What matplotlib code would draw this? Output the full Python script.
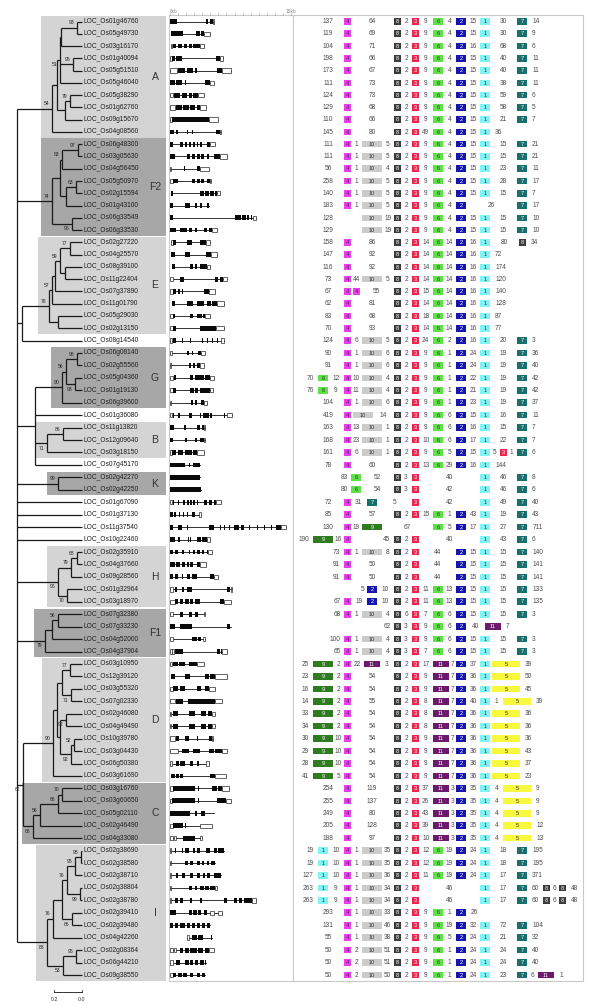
import matplotlib
matplotlib.use('Agg')
import matplotlib.pyplot as plt
from matplotlib.patches import Rectangle
import numpy as np

plt.rcParams['font.family'] = ['Liberation Sans', 'DejaVu Sans']

# ---------------------------------------------------------------- data
genes = ['LOC_Os01g46760', 'LOC_Os05g49730', 'LOC_Os03g16170', 'LOC_Os01g40094', 'LOC_Os05g51510',
         'LOC_Os05g46040', 'LOC_Os05g38290', 'LOC_Os01g62760', 'LOC_Os09g15670', 'LOC_Os04g08560',
         'LOC_Os06g48300', 'LOC_Os03g05630', 'LOC_Os04g56450', 'LOC_Os05g50970', 'LOC_Os02g15594',
         'LOC_Os01g43100', 'LOC_Os06g33549', 'LOC_Os06g33530', 'LOC_Os02g27220', 'LOC_Os04g25570',
         'LOC_Os08g39100', 'LOC_Os11g22404', 'LOC_Os07g37890', 'LOC_Os11g01790', 'LOC_Os05g29030',
         'LOC_Os02g13150', 'LOC_Os08g14540', 'LOC_Os06g08140', 'LOC_Os02g55560', 'LOC_Os05g04360',
         'LOC_Os01g19130', 'LOC_Os06g39600', 'LOC_Os01g36080', 'LOC_Os11g13820', 'LOC_Os12g09640',
         'LOC_Os03g18150', 'LOC_Os07g45170', 'LOC_Os02g42270', 'LOC_Os02g42250', 'LOC_Os01g67090',
         'LOC_Os01g37130', 'LOC_Os11g37540', 'LOC_Os10g22460', 'LOC_Os02g35910', 'LOC_Os04g37660',
         'LOC_Os09g28560', 'LOC_Os01g32964', 'LOC_Os03g18970', 'LOC_Os07g32380', 'LOC_Os07g33230',
         'LOC_Os04g52000', 'LOC_Os04g37904', 'LOC_Os03g10950', 'LOC_Os12g39120', 'LOC_Os03g55320',
         'LOC_Os07g02330', 'LOC_Os02g46080', 'LOC_Os04g49490', 'LOC_Os10g39780', 'LOC_Os03g04430',
         'LOC_Os06g50380', 'LOC_Os03g61690', 'LOC_Os03g16760', 'LOC_Os03g60650', 'LOC_Os05g02110',
         'LOC_Os02g46490', 'LOC_Os04g33080', 'LOC_Os02g38690', 'LOC_Os02g38580', 'LOC_Os02g38710',
         'LOC_Os02g38804', 'LOC_Os02g38780', 'LOC_Os02g39410', 'LOC_Os02g39480', 'LOC_Os04g42260',
         'LOC_Os02g08364', 'LOC_Os06g44210', 'LOC_Os09g38550']

# exons (kb)
exons = [
    [(0, 0.9), (4.5, 4.7), (4.95, 5.3)],
    [(0.1, 1.6), (3.25, 3.67), (3.9, 4.25)],
    [(0.4, 0.8), (1.0, 1.5), (1.7, 2.1), (2.3, 2.7), (2.9, 3.7)],
    [(0.3, 0.6), (0.8, 1.5), (5.75, 6.2)],
    [(0.95, 1.9), (2.1, 2.9), (3.1, 3.3), (5.8, 6.45)],
    [(0, 0.6), (0.8, 1.5), (1.8, 1.95), (4.4, 5.0)],
    [(0.5, 1.25), (1.5, 2.1), (2.3, 2.7), (2.9, 3.5)],
    [(0.75, 1.45), (1.67, 2.3), (2.5, 3.1), (3.3, 3.75)],
    [(0.2, 4.8)],
    [(0, 0.5), (0.7, 1.0), (2.1, 2.2), (2.7, 2.8), (3.3, 3.4), (5.75, 6.15)],
    [(0, 0.4), (1.25, 1.67), (1.9, 2.1), (2.3, 2.6), (2.9, 3.1), (3.3, 3.5), (3.75, 3.95), (4.6, 5.0)],
    [(0, 0.6), (2.1, 2.5), (2.7, 3.1), (3.3, 3.67), (3.9, 4.25), (4.6, 4.8), (5.4, 6.25)],
    [(0.7, 0.8), (1.2, 1.3), (1.7, 1.8), (2.3, 2.4), (3.3, 3.75)],
    [(0.35, 1.05), (2.7, 3.1), (3.3, 3.67), (3.9, 4.25), (4.6, 5.0)],
    [(0.1, 0.4), (3.75, 4.2), (4.4, 4.8), (5.0, 5.4), (5.6, 5.8)],
    [(0, 0.4), (1.9, 2.5), (3.1, 3.3), (3.75, 3.95), (4.6, 4.8)],
    [(0, 0.4), (8.1, 8.75), (8.96, 9.4), (9.6, 9.8), (10.0, 10.2)],
    [(0, 0.8), (1.25, 2.1), (2.4, 2.7), (3.1, 3.3), (4.2, 4.6), (4.8, 5.2)],
    [(0.33, 0.75), (2.1, 2.7), (3.75, 4.5)],
    [(0.1, 0.6), (1.9, 2.5), (4.5, 5.1)],
    [(0.2, 0.6), (2.5, 2.9), (3.1, 3.4), (3.67, 4.6)],
    [(1.2, 1.7), (5.6, 6.0), (6.2, 6.6)],
    [(0.4, 0.8), (0.95, 1.25), (1.45, 1.67), (4.25, 4.8)],
    [(0.2, 0.6), (2.1, 2.9), (3.3, 3.67), (3.75, 4.25), (4.6, 5.1), (5.2, 5.8)],
    [(0.33, 0.6), (2.5, 2.9), (3.3, 3.67), (3.75, 4.0), (4.1, 4.4)],
    [(0.4, 0.8), (3.67, 5.75)],
    [(0.4, 0.8), (1.5, 1.6), (2.5, 2.6), (3.3, 3.4), (4.0, 4.1), (4.6, 4.7), (5.2, 5.3), (5.8, 5.9)],
    [(2.1, 2.3), (2.7, 2.9), (3.5, 3.9)],
    [(2.3, 2.6), (2.8, 3.1), (3.3, 3.75)],
    [(0.5, 0.75), (2.5, 2.9), (3.1, 3.67), (3.75, 4.25), (4.4, 5.0)],
    [(0.4, 0.75), (2.5, 3.0), (3.1, 3.5), (3.67, 4.25), (4.25, 4.9)],
    [(2.6, 2.9), (3.1, 3.3), (3.8, 4.25)],
    [(0.33, 0.5), (1.0, 1.2), (2.3, 2.7), (3.67, 3.8), (4.1, 4.8), (5.0, 5.2), (6.7, 6.8)],
    [(0, 0.5), (1.75, 2.0), (3.3, 3.75), (3.95, 4.25)],
    [(0, 0.4), (1.9, 2.1), (3.1, 3.3), (3.75, 4.2)],
    [(0.2, 0.8), (1.0, 1.67), (1.9, 2.7), (2.9, 3.3)],
    [(0, 1.9), (2.3, 2.5), (2.9, 3.75)],
    [(0, 3.75)],
    [(0, 3.8)],
    [(0.4, 0.5), (1.0, 1.1), (1.67, 1.8), (2.1, 2.3), (2.5, 2.7), (2.9, 3.1), (3.3, 3.5), (4.2, 4.6), (4.8, 5.2), (5.4, 5.75)],
    [(0, 0.35), (0.5, 0.7), (1.1, 1.2), (1.6, 1.7), (2.1, 2.2), (2.7, 3.1)],
    [(0, 0.4), (1.0, 1.45), (2.1, 2.2), (3.3, 3.4), (4.8, 5.4), (6.25, 6.35), (6.7, 6.8), (7.3, 7.4),
     (7.9, 8.5), (8.75, 9.2), (9.8, 9.9), (10.8, 10.9), (11.7, 11.8), (12.5, 12.6), (13.1, 13.75)],
    [(0, 0.6), (1.0, 1.3), (1.8, 1.9), (2.2, 2.3), (2.5, 2.6), (3.4, 3.9), (4.0, 4.6)],
    [(0, 0.33), (0.6, 1.0), (1.45, 1.75), (2.3, 2.5), (2.9, 3.1), (3.3, 3.75), (4.0, 4.25), (4.6, 4.7)],
    [(0, 0.6), (0.8, 1.25), (1.45, 1.9), (2.1, 2.3), (2.5, 2.9), (3.3, 3.75)],
    [(0, 0.33), (0.6, 1.0), (1.45, 1.67), (2.1, 2.5), (2.7, 3.3), (5.0, 5.4)],
    [(0.6, 0.9), (1.45, 1.75), (2.1, 2.7), (7.1, 7.5)],
    [(0.6, 1.0), (1.25, 1.67), (1.9, 2.3), (2.5, 2.9), (3.1, 3.75), (6.25, 6.7)],
    [(1.25, 1.6), (2.3, 2.7), (3.1, 3.5)],
    [(0, 0.6), (1.25, 2.7), (7.1, 7.5)],
    [(2.7, 3.3), (3.5, 3.9)],
    [(0.6, 1.67), (5.8, 6.25), (6.3, 6.45)],
    [(0.33, 1.0), (1.1, 1.9), (2.3, 3.3)],
    [(0.1, 0.6), (1.9, 2.5), (4.4, 4.8), (5.0, 5.6)],
    [(0.4, 1.0), (1.25, 1.9), (3.3, 3.9), (4.4, 4.8)],
    [(0.8, 1.67), (2.2, 5.6)],
    [(0.33, 1.0), (2.3, 3.1), (3.9, 4.5), (4.7, 5.2)],
    [(0.33, 1.0), (2.3, 3.1), (3.9, 4.5), (4.7, 5.2)],
    [(0.8, 1.1), (1.9, 2.3), (3.3, 3.5), (4.8, 5.2)],
    [(1.45, 2.3), (2.9, 3.75), (4.8, 5.4), (5.6, 6.45)],
    [(0.8, 1.1), (1.25, 1.9), (2.5, 2.9), (3.3, 3.6)],
    [(0.1, 0.6), (0.7, 1.1), (1.25, 1.6), (5.0, 5.6)],
    [(0.33, 3.1), (3.5, 3.6), (5.2, 5.8), (6.0, 6.45)],
    [(0.2, 3.1), (3.5, 3.6), (5.8, 6.45), (6.45, 6.9)],
    [(0, 2.5), (3.1, 3.3), (3.9, 4.4), (5.4, 5.5)],
    [(0.33, 1.6), (1.9, 2.0), (2.3, 2.4)],
    [(1.67, 3.1)],
    [(0.6, 0.7), (1.45, 1.55), (1.9, 2.3), (2.9, 3.1), (3.3, 3.75), (4.5, 5.0), (5.4, 5.8), (6.0, 6.7)],
    [(1.9, 2.2), (2.5, 2.8), (3.3, 3.75), (4.0, 4.2), (4.6, 4.8), (5.1, 5.6)],
    [(0.8, 1.0), (1.45, 1.9), (2.5, 2.9), (3.3, 3.75), (4.1, 4.4), (4.6, 5.0), (5.4, 6.3)],
    [(2.3, 2.7), (3.1, 3.3), (3.75, 4.2), (4.4, 4.8), (5.0, 5.6)],
    [(0.6, 1.0), (1.25, 1.67), (2.5, 2.7), (3.75, 4.0), (6.75, 7.1), (7.5, 7.6), (7.9, 8.3), (8.5, 8.96), (9.2, 9.6), (9.6, 10.2)],
    [(0, 0.8), (2.3, 2.7), (2.9, 3.3), (3.5, 3.9), (4.2, 4.6)],
    [(0, 0.4), (0.6, 1.0), (1.25, 1.9), (2.1, 2.5), (2.7, 3.1), (3.3, 3.75), (4.0, 4.4), (4.6, 5.0)],
    [(2.7, 3.3), (3.5, 4.1), (4.3, 4.4), (4.9, 5.0), (5.1, 5.2)],
    [(1.25, 1.6), (1.9, 2.3), (2.5, 3.3), (3.5, 4.1), (4.4, 4.8)],
    [(0.8, 1.25), (1.9, 2.3), (2.5, 2.9), (3.1, 3.5), (3.75, 4.25), (4.3, 4.5)],
    [(0.4, 0.75), (1.0, 1.45), (1.67, 2.1), (2.5, 2.9), (3.3, 3.75), (3.95, 4.4)],
]

# UTRs (kb)
utrs = [
    [(5.3, 5.45)], [(4.25, 4.9)], [(0.1, 0.3), (3.7, 4.25)], [(0, 0.3), (6.2, 6.6)], [(0, 0.9), (6.45, 7.5)],
    [(5.0, 5.4)], [(0, 0.4), (3.5, 4.2)], [(0, 0.6), (3.75, 4.45)], [(0, 0.2), (4.8, 5.9)], [(6.15, 6.3)],
    [(5.0, 5.6)], [(6.25, 7.1)], [(0, 0.15), (3.75, 4.8)], [(0, 0.35), (5.0, 5.1)], [(5.8, 6.25)],
    [], [(10.3, 10.6)], [(5.2, 5.8)], [(0.1, 0.33), (4.5, 5.0)], [(5.1, 5.8)],
    [(4.6, 4.9)], [(0, 0.4), (6.6, 7.1)], [(0, 0.4), (4.8, 5.6)], [(5.8, 6.7)], [(0, 0.33), (4.4, 4.9)],
    [(0, 0.4), (5.75, 6.75)], [(0, 0.2), (6.3, 6.7)], [(0, 0.2), (3.9, 4.4)], [(0, 0.15), (3.75, 4.25)], [(0, 0.33), (5.0, 5.5)],
    [(0, 0.4), (4.9, 5.3)], [(0, 0.1), (4.25, 4.6)], [(0, 0.2), (7.1, 7.7)], [(4.25, 4.4)], [(4.2, 4.3)],
    [(0, 0.2), (3.3, 4.2)], [], [], [], [(0, 0.3), (5.75, 6.3)],
    [(3.6, 3.9)], [(13.75, 14.4)], [(4.6, 5.0)], [(4.7, 5.2)], [(3.75, 4.5)],
    [(5.4, 6.0)], [(0, 0.33), (7.5, 7.7)], [(0, 0.6), (6.7, 7.5)], [(0, 0.4), (4.2, 4.3)], [],
    [(0, 0.4), (4.1, 4.3)], [(0, 0.2), (0.25, 0.45), (6.45, 7.1)], [(0, 0.2), (3.3, 4.25)], [(5.6, 7.1)], [(0, 0.33), (4.8, 5.6)],
    [(0, 0.6), (5.6, 6.45)], [(0, 0.15), (5.2, 5.6)], [(0, 0.15), (5.2, 5.6)], [(0, 0.6), (5.2, 5.3)], [(0, 1.0), (6.45, 7.1)],
    [(0, 0.3), (4.5, 4.8)], [(5.6, 6.9)], [(0, 0.33), (6.45, 7.3)], [(0, 0.2), (6.9, 7.5)], [],
    [(0, 0.33), (3.75, 5.2)], [(0, 0.4), (0.45, 0.8), (3.75, 3.95)], [(0, 0.1)], [(0, 0.1)], [(0, 0.1)],
    [(0, 0.1), (5.6, 5.8)], [(0, 0.1), (10.2, 10.6)], [(5.0, 5.4), (6.0, 6.45)], [], [(2.1, 2.4)],
    [(0, 0.4), (0.45, 0.8), (4.8, 5.4)], [(0, 0.33)], [(0, 0.33)],
]

# motif composition, gap lengths between motifs ("m4" = motif 4, "@col" = alignment column)
motif_rows = [
    "137 m4 64 m8 2 m3 9 m6 4 m2 15 m1 30 m7 14",
    "119 m4 69 m8 2 m3 9 m6 4 m2 15 m1 30 m7 9",
    "104 m4 71 m8 2 m3 9 m6 4 m2 16 m1 68 m7 6",
    "198 m4 66 m8 2 m3 9 m6 4 m2 15 m1 40 m7 11",
    "173 m4 67 m8 2 m3 9 m6 4 m2 15 m1 40 m7 11",
    "111 m4 73 m8 2 m3 9 m6 4 m2 15 m1 38 m7 11",
    "124 m4 73 m8 2 m3 9 m6 4 m2 15 m1 59 m7 6",
    "129 m4 68 m8 2 m3 9 m6 4 m2 15 m1 58 m7 5",
    "110 m4 66 m8 2 m3 9 m6 4 m2 15 m1 21 m7 7",
    "145 m4 80 m8 2 m3 49 m6 4 m2 15 m1 36",
    "111 m4 1 m10 5 m8 2 m3 9 m6 4 m2 15 m1 15 m7 21",
    "111 m4 1 m10 5 m8 2 m3 9 m6 4 m2 15 m1 15 m7 21",
    "56 m4 1 m10 4 m8 2 m3 9 m6 4 m2 15 m1 23 m7 11",
    "258 m4 1 m10 5 m8 2 m3 9 m6 4 m2 15 m1 28 m7 17",
    "140 m4 1 m10 5 m8 2 m3 9 m6 4 m2 15 m1 15 m7 7",
    "183 m4 1 m10 5 m8 2 m3 9 m6 4 m2 26 m7 17",
    "128 m10 19 m8 2 m3 9 m6 4 m2 15 m1 15 m7 10",
    "129 m10 19 m8 2 m3 9 m6 4 m2 15 m1 15 m7 10",
    "158 m4 86 m8 2 m3 14 m6 14 m2 16 m1 80 m8@c7 34",
    "147 m4 92 m8 2 m3 14 m6 14 m2 16 m1 72",
    "116 m4 92 m8 2 m3 14 m6 14 m2 16 m1 174",
    "73 m4 44 m10 5 m8 2 m3 14 m6 14 m2 16 m1 120",
    "67 m4 m4@c4b 55 m8 2 m3 15 m6 14 m2 16 m1 140",
    "62 m4 81 m8 2 m3 14 m6 14 m2 16 m1 128",
    "83 m4 68 m8 2 m3 18 m6 14 m2 16 m1 87",
    "70 m4 93 m8 2 m3 14 m6 14 m2 16 m1 77",
    "124 m4 6 m10 5 m8 2 m3 24 m6 2 m2 16 m1 20 m7 3",
    "90 m4 1 m10 6 m8 2 m3 9 m6 1 m2 24 m1 19 m7 36",
    "91 m4 1 m10 6 m8 2 m3 9 m6 1 m2 24 m1 19 m7 40",
    "70 m6@c9 12 m4 10 m10 4 m8 2 m3 9 m6 1 m2 22 m1 19 m7 42",
    "76 m6@c9 9 m4 11 m10 4 m8 2 m3 9 m6 1 m2 21 m1 19 m7 42",
    "104 m4 1 m10 6 m8 2 m3 9 m6 1 m2 23 m1 19 m7 37",
    "419 m4 m10@c10a 14 m8 2 m3 9 m6 6 m2 15 m1 16 m7 11",
    "163 m4 13 m10 1 m8 2 m3 9 m6 6 m2 16 m1 15 m7 7",
    "168 m4 23 m10 1 m8 2 m3 10 m6 6 m2 17 m1 22 m7 7",
    "161 m4 6 m10 1 m8 2 m3 9 m6 5 m2 15 m1 5 m3@cm 1 m7 6",
    "78 m4 60 m8 2 m3 13 m6 29 m2 16 m1 144",
    "83@r m6@c4b 52 m8 3 m3 40 m1 46 m7 8",
    "80@r m6@c4b 54 m8 3 m3 42 m1 46 m7 6",
    "72 m4 31 m7@c10 5 m3 42 m1 49 m7 40",
    "85 m4 57 m8 2 m3 15 m6 1 m2 43 m1 19 m7 43",
    "130 m4 19 m9@c10 67 m6 5 m2 17 m1 27 m7 711",
    "190 m9 16 m4 45@r m8 2 m3 40 m1 43 m7 6",
    "73@r m4 1 m10 8 m8 2 m3 44 m2 15 m1 15 m7 140",
    "91@r m4 50 m8 2 m3 44 m2 15 m1 15 m7 141",
    "91@r m4 50 m8 2 m3 44 m2 15 m1 15 m7 141",
    "5@r m2@c10 10 m8 2 m3 11 m6 13 m2 15 m1 15 m7 133",
    "67@r m4 19 m2@c10 10 m8 2 m3 11 m6 13 m2 15 m1 15 m7 135",
    "68@r m4 1 m10 4 m8 6 m3 7 m6 6 m2 15 m1 15 m7 3",
    "62@r m8 3 m3 9 m6 6 m2 40 m11@c11b 7",
    "100@r m4 1 m10 4 m8 3 m3 9 m6 6 m2 15 m1 15 m7 3",
    "65@r m4 1 m10 4 m8 3 m3 7 m6 6 m2 15 m1 15 m7 3",
    "25 m9 2 m4 22 m11@c10 3 m8 2 m3 17 m11 7 m2 37 m1 m5 39",
    "23 m9 2 m4 54 m8 2 m3 9 m11 7 m2 36 m1 m5 50",
    "16 m9 2 m4 54 m8 2 m3 9 m11 7 m2 36 m1 m5 45",
    "14 m9 2 m4 55 m8 2 m3 8 m11 7 m2 40 m1 1 m5@c5b 39",
    "33 m9 2 m4 54 m8 2 m3 8 m11 7 m2 36 m1 m5 36",
    "34 m9 2 m4 54 m8 2 m3 8 m11 7 m2 36 m1 m5 36",
    "30 m9 10 m4 54 m8 2 m3 9 m11 7 m2 36 m1 m5 36",
    "29 m9 10 m4 54 m8 2 m3 9 m11 7 m2 36 m1 m5 43",
    "28 m9 10 m4 54 m8 2 m3 9 m11 7 m2 36 m1 m5 37",
    "41 m9 5 m4 54 m8 2 m3 9 m11 7 m2 36 m1 m5 23",
    "254 m4 119 m8 2 m3 37 m11 3 m2 35 m1 4 m5@c5b 9",
    "255 m4 137 m8 2 m3 26 m11 3 m2 35 m1 4 m5@c5b 9",
    "249 m4 80 m8 2 m3 43 m11 3 m2 35 m1 4 m5@c5b 9",
    "205 m4 128 m8 2 m3 39 m11 3 m2 35 m1 4 m5@c5b 12",
    "188 m4 97 m8 2 m3 10 m11 3 m2 35 m1 4 m5@c5b 13",
    "19 m1@c9 10 m4 1 m10 35 m8 2 m3 12 m6 19 m2 24 m1 18 m7 195",
    "19 m1@c9 10 m4 1 m10 35 m8 2 m3 12 m6 19 m2 24 m1 18 m7 195",
    "127 m1@c9 10 m4 1 m10 36 m8 2 m3 11 m6 19 m2 24 m1 17 m7 371",
    "263 m1@c9 9 m4 1 m10 34 m8 2 m3 46 m1 17 m7 60 m8@e1 6 m8@e2 48",
    "263 m1@c9 9 m4 1 m10 34 m8 2 m3 46 m1 17 m7 60 m8@e1 6 m8@e2 48",
    "293 m4 1 m10 33 m8 2 m3 9 m6 1 m2 26",
    "131 m4 1 m10 46 m8 2 m3 9 m6 19 m2 32 m1 72 m7 104",
    "55 m4 1 m10 38 m8 2 m3 9 m6 5 m2 24 m1 21 m7 32",
    "50 m4 2 m10 51 m8 2 m3 9 m6 1 m2 24 m1 24 m7 40",
    "50 m4 2 m10 51 m8 2 m3 9 m6 1 m2 24 m1 24 m7 40",
    "50 m4 2 m10 50 m8 2 m3 9 m6 1 m2 24 m1 23 m7 6 m11@e1 1",
]


# tree: node depth (branch length units from tips), bootstrap, children (leaf = row index)
def N(depth, boot, *kids, group=None, below=False):
    return {'d': depth, 'b': boot, 'kids': kids, 'g': group, 'below': below}


clade_A = N(0.214, '54', N(0.179, '', N(0.157, '51', N(0.150, '', N(0.036, '93', 0, 1), 2), N(0.064, '95', 3, 4), 5, below=True),
                           N(0.121, '', N(0.086, '79', 6, 7), 8)), 9, group='A')
clade_F2 = N(0.214, '74', N(0.157, '', N(0.143, '83', N(0.029, '97', 10, 11), 12), N(0.114, '', N(0.043, '63', 13, 14), 15)),
             N(0.071, '96', 16, 17, below=True), group='F2')
clade_E = N(0.236, '78', N(0.214, '57', N(0.193, '', N(0.157, '59', N(0.086, '77', 18, 19), N(0.121, '', 20, 21)), 22), 23),
            N(0.171, '', 24, 25), group='E')
clade_G = N(0.143, '90', N(0.114, '56', N(0.036, '98', 27, 28), N(0.050, '93', 29, 30, below=True)), 31, group='G')
clade_B = N(0.250, '71', N(0.136, '86', 33, 34), 35, group='B', below=True)
clade_K = N(0.171, '99', 37, 38, group='K')
clade_H = N(0.171, '96', N(0.079, '79', N(0.036, '68', 43, 44), 45), N(0.107, '70', 46, 47, below=True), group='H', below=True)
clade_F1 = N(0.264, '79', N(0.214, '', N(0.171, '56', 48, 49), 50), 51, group='F1', below=True)
clade_D = N(0.207, '90', N(0.179, '', N(0.143, '', N(0.086, '77', 52, 53), N(0.079, '71', 54, 55, below=True)),
                           N(0.157, '', N(0.114, '92', 56, 57, below=True), N(0.079, '92', N(0.057, '52', 58, 59), 60, below=True))),
            61, group='D')
clade_C = N(0.350, '68', N(0.300, '56', N(0.171, '86', N(0.143, '70', 62, 63), 64), 65), 66, group='C', below=True)
clade_I = N(0.250, '88', N(0.207, '76', N(0.143, '', N(0.107, '76', N(0.050, '95', N(0.007, '98', 67, 68), 69),
                                                       N(0.011, '99', 70, 71, below=True)),
                                         N(0.071, '86', 72, 73, below=True)), 74),
            N(0.136, '53', N(0.043, '95', 75, 76), 77, below=True), group='I', below=True)
tree = N(0.464, '', clade_A, clade_F2, N(0.429, '', clade_E, 26), N(0.336, '', clade_G, 32, clade_B, 36), clade_K,
         39, 40, 41, 42, clade_H, clade_F1, N(0.421, '62', clade_D, clade_C, below=True), clade_I)

dark_groups = ['F2', 'G', 'K', 'F1', 'C']

motif_colors = {1: '#80f4f4', 2: '#1616ae', 3: '#ee2550', 4: '#f03cf0', 5: '#f8f83e', 6: '#5fdf48',
                7: '#186f6d', 8: '#3c3c3c', 9: '#2e7b20', 10: '#cbcbcb', 11: '#6c1b6c'}
light_motifs = [1, 4, 5, 6, 10]

# ---------------------------------------------------------------- layout
W, H = 600, 1005
TIP = 82                    # tree tips (px)
UNIT = 140                  # px per branch length unit
# row centres (px), slightly tighter at the top as in the original
row_y = list(np.interp(np.arange(len(genes)), [0, 26, 77], [21.5, 340.5, 975]))

fig = plt.figure(figsize=(W / 100, H / 100), dpi=100)
ax = fig.add_axes([0, 0, 1, 1])
ax.set_xlim(0, W)
ax.set_ylim(H, 0)
ax.axis('off')

ax_t = fig.add_axes([0, 0, TIP / W, 1])
ax_t.set_xlim(TIP / UNIT, 0)
ax_t.set_ylim(H, 0)
ax_t.axis('off')

ax_g = fig.add_axes([170 / W, 0, 121 / W, 1])
ax_g.set_xlim(0, 15)
ax_g.set_ylim(H, 0)
ax_g.axis('off')

line_kw = dict(color='#1a1a1a', lw=0.9, solid_capstyle='butt', zorder=3, clip_on=False)
groups = []


def leaves(node):
    if isinstance(node, int):
        return [node]
    out = []
    for k in node['kids']:
        out += leaves(k)
    return out


def draw(node, parent_d):
    if isinstance(node, int):
        y = row_y[node]
        ax_t.plot([parent_d, 0], [y, y], **line_kw)
        ax_t.annotate(genes[node], (0, y), xytext=(1.3, 0), textcoords='offset points',
                      ha='left', va='center', fontsize=4.8, color='#1e1e1e', annotation_clip=False)
        return y
    ys = [draw(k, node['d']) for k in node['kids']]
    y = (ys[0] + ys[-1]) / 2
    ax_t.plot([node['d']] * 2, [ys[0], ys[-1]], **line_kw)
    if parent_d is not None:
        ax_t.plot([parent_d, node['d']], [y, y], **line_kw)
    if node['b']:
        ax_t.annotate(node['b'], (node['d'], y), xytext=(-1.8, -3.6 if node['below'] else 3.4),
                      textcoords='offset points', ha='right', va='center', fontsize=3.6,
                      color='#222222', annotation_clip=False, zorder=4)
    if node['g']:
        lv = leaves(node)
        groups.append((node['g'], node['d'], min(lv), max(lv)))
    return y


draw(tree, None)

# group shading
for name, d, first, last in groups:
    y0, y1 = row_y[first] - 5.7, row_y[last] + 5.7
    left = d + 11 / UNIT
    right = -84 / UNIT
    shade = '#a7a7a7' if name in dark_groups else '#d4d4d4'
    ax_t.add_patch(Rectangle((right, y0), left - right, y1 - y0, facecolor=shade,
                             edgecolor='none', zorder=0, clip_on=False))
    ax_t.text(-73 / UNIT, (y0 + y1) / 2, name, ha='center', va='center', fontsize=7.5,
              color='#333333', clip_on=False, zorder=4)

# tree scale bar
ax_t.plot([0.2, 0], [992, 992], color='#333333', lw=0.7, clip_on=False)
for v in (0.2, 0):
    ax_t.plot([v, v], [989.5, 992], color='#333333', lw=0.6, clip_on=False)
    ax_t.text(v, 999, '%.1f' % v, ha='center', va='center', fontsize=3.8, color='#333333', clip_on=False)

# panel frame
ax.add_patch(Rectangle((169, 15), 414, 966, fill=False, edgecolor='#c9c9c9', lw=0.8))
ax.plot([293, 293], [15, 981], color='#c9c9c9', lw=0.8)

# kb ruler
for k in range(16):
    ax_g.plot([k, k], [13.2, 15], color='#999999', lw=0.4, clip_on=False)
ax_g.text(0, 11, '0kb', ha='left', va='center', fontsize=3.4, color='#888888', clip_on=False)
ax_g.text(15, 11, '15kb', ha='center', va='center', fontsize=3.4, color='#888888', clip_on=False)

# gene structures
for i, (ex, ut) in enumerate(zip(exons, utrs)):
    y = row_y[i]
    feats = ex + ut
    lo = min(s for s, e in feats)
    hi = max(e for s, e in feats)
    ax_g.plot([lo, hi], [y, y], color='#111111', lw=0.6, clip_on=False, zorder=1)
    for s, e in ut:
        ax_g.add_patch(Rectangle((s, y - 2.2), e - s, 4.4, facecolor='white', edgecolor='#111111',
                                 lw=0.45, zorder=2, clip_on=False))
    for s, e in ex:
        ax_g.add_patch(Rectangle((s, y - 2.4), e - s, 4.8, facecolor='#0a0a0a', edgecolor='none',
                                 zorder=3, clip_on=False))

# motif panel
cols = {'c9': 323, 'c4': 347, 'c4b': 356, 'c10a': 363, 'c10': 372, 'c8': 397, 'c3': 415, 'c6': 438,
        'c11': 441, 'c2': 461, 'c1': 485, 'c11b': 493, 'cm': 503, 'c5': 506, 'c5b': 517, 'c7': 522,
        'e1': 546, 'e2': 562}
home = {9: 'c9', 4: 'c4', 10: 'c10', 8: 'c8', 3: 'c3', 6: 'c6', 11: 'c11', 2: 'c2', 1: 'c1', 5: 'c5', 7: 'c7'}
box_w = {1: 10, 2: 10, 3: 7, 4: 7, 6: 10, 7: 10, 8: 7, 5: 28, 9: 20, 10: 20, 11: 16}
DIGIT = 3.7

for i, row in enumerate(motif_rows):
    y = row_y[i]
    items = []
    for tok in row.split():
        if tok[0] == 'm':
            num, _, col = tok[1:].partition('@')
            num = int(num)
            cx = cols[col or home[num]]
            items.append(('box', num, cx - box_w[num] / 2, cx + box_w[num] / 2))
        else:
            val, _, flag = tok.partition('@')
            items.append(('num', val, flag))
    for j, it in enumerate(items):
        if it[0] == 'box':
            _, num, x0, x1 = it
            ax.add_patch(Rectangle((x0, y - 3.3), x1 - x0, 6.6, facecolor=motif_colors[num],
                                   edgecolor='none', zorder=2))
            ax.text((x0 + x1) / 2, y + 0.2, str(num), ha='center', va='center', fontsize=4.1,
                    color='#333333' if num in light_motifs else 'white', zorder=3)
            continue
        _, val, flag = it
        prev = next((b for b in reversed(items[:j]) if b[0] == 'box'), None)
        nxt = next((b for b in items[j + 1:] if b[0] == 'box'), None)
        w = DIGIT * len(val)
        if flag == 'r' and nxt:
            x = nxt[2] - 3 - w / 2
        elif prev and nxt:
            x = (prev[3] + nxt[2]) / 2
        elif nxt:
            x = min(328, nxt[2] - 4 - w / 2)
        else:
            x = prev[3] + 5 + w / 2
        ax.text(x, y + 0.2, val, ha='center', va='center', fontsize=4.7, color='#4a4a4a', zorder=3)

fig.savefig('out.png', dpi=100)
